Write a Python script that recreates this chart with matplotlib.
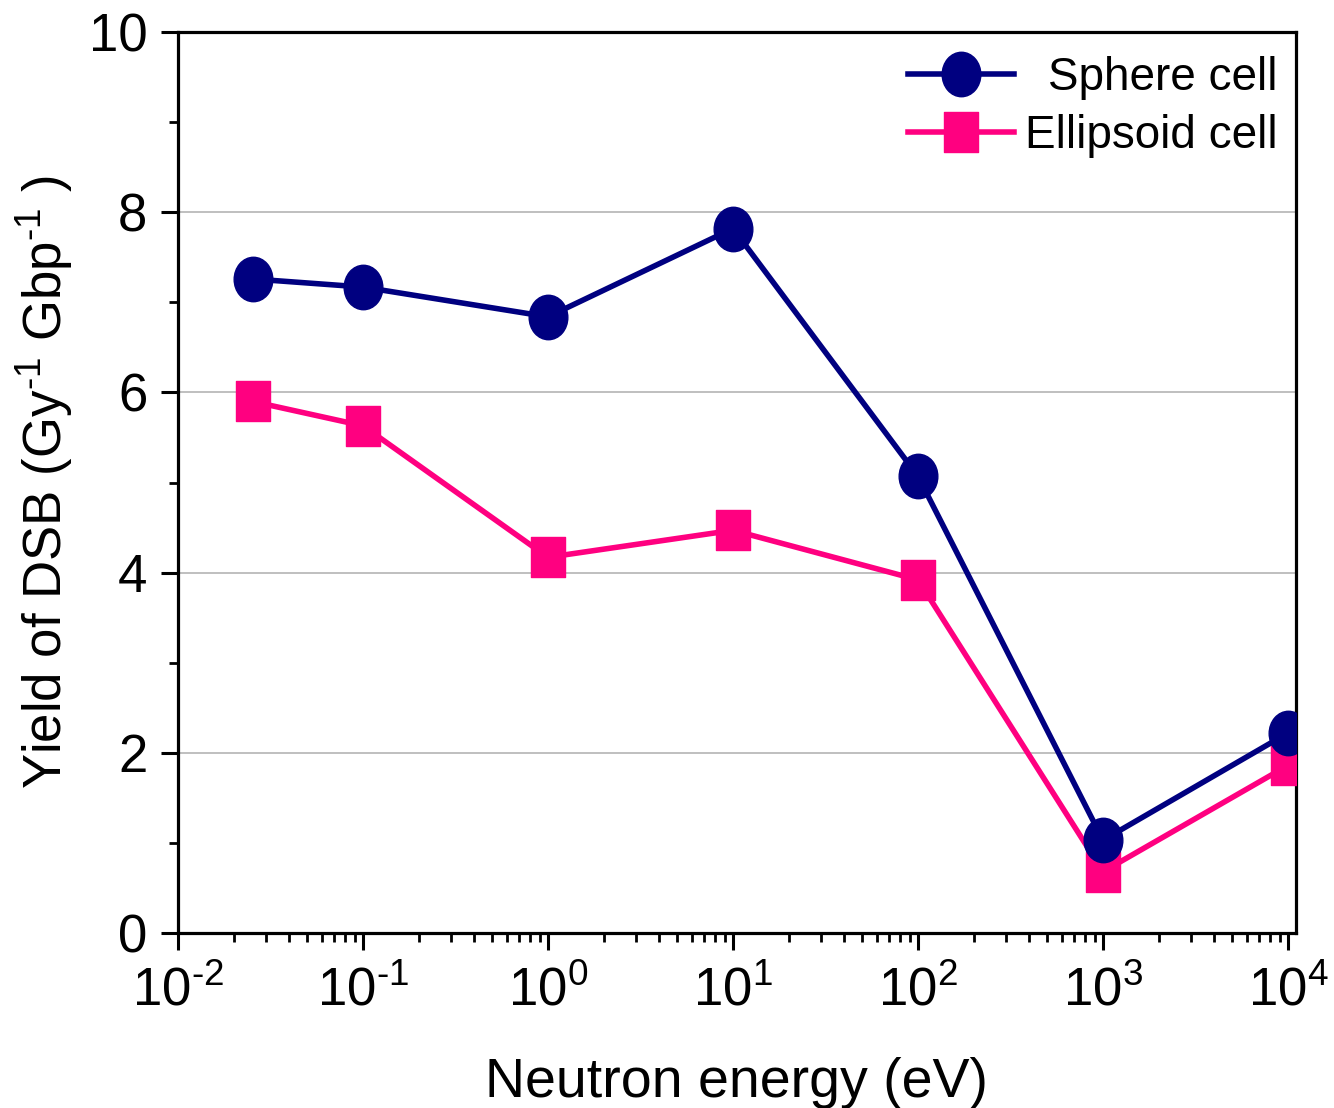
import numpy as np
import matplotlib
matplotlib.use('Agg')
import matplotlib.pyplot as plt
from matplotlib.path import Path
from matplotlib.transforms import Affine2D
from matplotlib.ticker import FixedLocator, MultipleLocator, FuncFormatter

plt.rcParams['font.family'] = ['Liberation Sans', 'DejaVu Sans']
plt.rcParams['mathtext.fontset'] = 'custom'
plt.rcParams['mathtext.rm'] = 'Liberation Sans'
plt.rcParams['mathtext.it'] = 'Liberation Sans:italic'
plt.rcParams['mathtext.bf'] = 'Liberation Sans:bold'

# Neutron energies (eV) and DSB yields
energy = [0.0253, 0.1, 1, 10, 100, 1000, 10000]
sphere_yield = [7.26, 7.17, 6.84, 7.82, 5.07, 1.03, 2.22]
ellipsoid_yield = [5.90, 5.63, 4.17, 4.47, 3.92, 0.68, 1.86]

labels = ['Sphere cell', 'Ellipsoid cell']
colors = ['#000080', '#ff0080']

# slightly tall markers
stretch = Affine2D().scale(1.0, 1.15)
ellipse_marker = Path(stretch.transform(Path.unit_circle().vertices), Path.unit_circle().codes)
rect_marker = Path(stretch.transform(Path.unit_rectangle().vertices - 0.5), Path.unit_rectangle().codes)


def pow10(x, pos):
    e = int(round(np.log10(x)))
    if e < 0:
        return r'$\mathregular{10^{\text{-}%d}}$' % (-e)
    return r'$\mathregular{10^{%d}}$' % e


fig = plt.figure(figsize=(13.34, 11.08), dpi=100)
ax = fig.add_axes([0.1334, 0.158, 0.8381, 0.813])

ax.plot(energy, sphere_yield, color=colors[0], lw=4.0, marker=ellipse_marker,
        ms=32, mec=colors[0], mfc=colors[0], label=labels[0], zorder=4)
ax.plot(energy, ellipsoid_yield, color=colors[1], lw=4.0, marker=rect_marker,
        ms=28.5, mec=colors[1], mfc=colors[1], label=labels[1], zorder=3)

ax.set_xscale('log')
ax.set_xlim(1e-2, 10 ** 4.043)
ax.set_ylim(0, 10)

decades = 10.0 ** np.arange(-2, 5)
minor = [d * m for d in decades[:-1] for m in range(2, 10)]
ax.xaxis.set_major_locator(FixedLocator(decades))
ax.xaxis.set_minor_locator(FixedLocator(minor))
ax.xaxis.set_major_formatter(FuncFormatter(pow10))
ax.yaxis.set_major_locator(MultipleLocator(2))
ax.yaxis.set_minor_locator(MultipleLocator(1))

ax.grid(axis='y', which='major', color='#b4b4b4', lw=1.2, zorder=0)
ax.set_axisbelow(True)

for s in ax.spines.values():
    s.set_linewidth(2.3)
ax.tick_params(which='major', direction='out', length=12, width=2.2,
               labelsize=38, pad=10, top=False, right=False)
ax.tick_params(which='minor', direction='out', length=6.5, width=2.0,
               top=False, right=False)
ax.tick_params(axis='x', which='major', pad=12)

ax.set_xlabel('Neutron energy (eV)', fontsize=40, labelpad=29)
ax.set_ylabel(r'Yield of DSB (Gy$^{\text{-}1}$ Gbp$^{\text{-}1}$ )', fontsize=38, labelpad=10)

leg = ax.legend(loc='upper right', bbox_to_anchor=(1.0, 0.994), fontsize=33,
                frameon=False, handlelength=2.3, handletextpad=0.25,
                labelspacing=0.3, borderaxespad=0.2, borderpad=0.2)

# right-align the legend labels
fig.canvas.draw()
renderer = fig.canvas.get_renderer()
widths = [t.get_window_extent(renderer).width for t in leg.get_texts()]
for t, w in zip(leg.get_texts(), widths):
    t.set_x(max(widths) - w)

fig.savefig('out.png', dpi=100)
